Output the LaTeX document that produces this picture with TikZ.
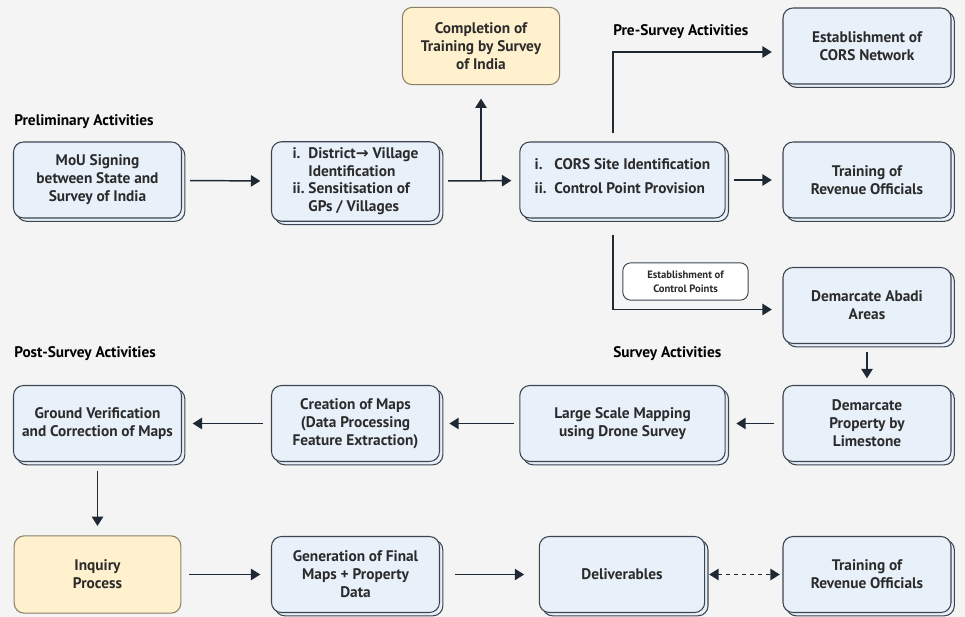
\documentclass[tikz,border=0pt]{standalone}
\usepackage{fontspec}
\setmainfont{PT Sans}
\newfontfamily\symfont{DejaVu Sans}
\usetikzlibrary{arrows.meta,shadows,positioning}
\definecolor{bgcol}{HTML}{F4F4F4}
\definecolor{boxblue}{HTML}{E8F0FA}
\definecolor{boxline}{HTML}{3C4650}
\definecolor{boxyellow}{HTML}{FFF1CE}
\definecolor{yline}{HTML}{8C8068}
\definecolor{ink}{HTML}{1F2933}
\definecolor{txt}{HTML}{2B2B2B}
\tikzstyle{block}=[rectangle, draw=boxline, fill=boxblue, line width=0.8pt,
    rounded corners=7.5pt, minimum width=126pt, minimum height=57pt,
    align=center, text=txt, font=\bfseries\fontsize{11.5}{13.5}\selectfont,
    copy shadow={shadow xshift=2.5pt, shadow yshift=-2.5pt}]
\tikzstyle{wideblock}=[block, minimum width=154pt]
\tikzstyle{hold}=[rectangle, draw=yline, fill=boxyellow, line width=0.8pt,
    rounded corners=7.5pt, minimum width=118pt, minimum height=58pt,
    align=center, text=txt, font=\bfseries\fontsize{11.5}{13.5}\selectfont]
\tikzstyle{phase}=[anchor=west, inner sep=0pt, text=black,
    font=\bfseries\fontsize{11.5}{13}\selectfont]
\tikzstyle{line}=[draw=ink, line width=1.1pt, shorten >=8pt, shorten <=6pt,
    -{Triangle[length=7pt,width=8.5pt]}]
\newcommand{\rarr}{{\symfont\bfseries →}}

\begin{document}
\begin{tikzpicture}[x=0.75pt, y=-0.75pt,
    tag/.style={rectangle, draw=boxline, fill=white, line width=0.7pt,
      rounded corners=6pt, minimum width=94pt, minimum height=28pt,
      align=center, text=txt, font=\bfseries\fontsize{8}{10.5}\selectfont}]
  \fill[bgcol] (0,0) rectangle (965,617);
  \useasboundingbox (0,0) rectangle (965,617);

  % phase titles
  \node[phase] (prelim) at (14,122) {Preliminary Activities};
  \node[phase] (presurv) at (613,32) {Pre-Survey Activities};
  \node[phase] (postsurv) at (14,354) {Post-Survey Activities};
  \node[phase] (surv) at (613,354) {Survey Activities};

  % first row
  \node[block] (mou) at (97.5,180) {MoU Signing\\between State and\\Survey of India};
  \node[block] (dist) at (355.5,181.5) {\renewcommand{\arraystretch}{0.98}%
    \begin{tabular}{@{}l@{\ }l@{}}
      i. & District\rarr{} Village\\
         & Identification\\
      ii. & Sensitisation of\\
         & GPs / Villages
    \end{tabular}};
  \node[wideblock] (cors) at (622.5,180) {\renewcommand{\arraystretch}{1.3}%
    \begin{tabular}{@{}l@{\ \ }l@{}}
      i. & CORS Site Identification\\
      ii. & Control Point Provision
    \end{tabular}\\[4pt]};
  \node[hold] (compl) at (481,46) {Completion of\\Training by Survey\\of India};
  \node[block] (estcors) at (867,46) {Establishment of\\CORS Network};
  \node[block] (train) at (867,180) {Training of\\Revenue Officials};
  \node[block] (abadi) at (867,305.5) {Demarcate Abadi\\Areas};

  % survey row
  \node[block] (prop) at (867,423.5) {Demarcate\\Property by\\Limestone};
  \node[wideblock] (lsm) at (622.5,423.5) {Large Scale Mapping\\using Drone Survey};
  \node[block] (maps) at (355.5,423.5) {Creation of Maps\\(Data Processing\\Feature Extraction)};
  \node[block] (ground) at (97.5,423.5) {Ground Verification\\and Correction of Maps};

  % last row
  \node[hold, minimum width=125pt] (inq) at (97.5,574.5) {Inquiry\\Process};
  \node[block] (gen) at (355.5,574.5) {Generation of Final\\Maps + Property\\Data};
  \node[block, minimum width=124pt] (deliv) at (622,574.5) {Deliverables};
  \node[block] (train2) at (867,574.5) {Training of\\Revenue Officials};

  \node[tag] (ctrl) at (685.5,281.5) {Establishment of\\Control Points};

  % connectors
  \coordinate (fork) at (481,180.5);
  \coordinate (up) at (613,142);
  \coordinate (down) at (613,218);
  \path[line] (mou) -- (dist);
  \path[line, shorten >=6pt] (dist) -- (cors);
  \path[line, shorten <=0pt, shorten >=10pt] (fork) -- (compl);
  \path[line] (cors) -- (train);
  \path[line, shorten <=7pt] (up) |- ([yshift=-4.5pt]estcors.west);
  \path[line, shorten <=13pt] (down) |- ([yshift=-3pt]abadi.west);
  \path[line, shorten <=6pt, shorten >=5pt] (abadi) -- (prop);
  \path[line] (prop) -- (lsm);
  \path[line, shorten <=4pt, shorten >=7pt] (lsm) -- (maps);
  \path[line] (maps) -- (ground);
  \path[line, shorten <=7pt, shorten >=7pt] (ground) -- (inq);
  \path[line] (inq) -- (gen);
  \path[line, shorten <=11pt, shorten >=11pt] (gen) -- (deliv);
  \path[line, dashed, line width=1pt, shorten <=3pt, shorten >=2pt,
    {Triangle[length=7pt,width=8.5pt]}-{Triangle[length=7pt,width=8.5pt]}] (deliv) -- (train2);
\end{tikzpicture}
\end{document}
